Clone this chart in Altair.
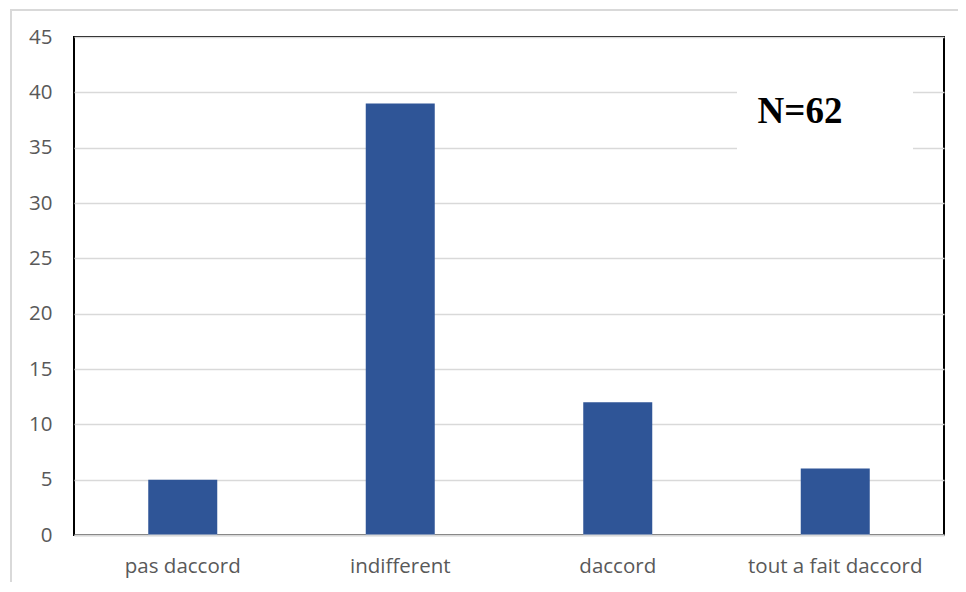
import altair as alt
import pandas as pd

categories = ["pas daccord", "indifferent", "daccord", "tout a fait daccord"]
values = [5, 39, 12, 6]
y_ticks = [0, 5, 10, 15, 20, 25, 30, 35, 40, 45]
annotation = "N=62"

df = pd.DataFrame({"cat": categories, "val": values})

W, H = 870, 498
GRAY_TXT = "#595959"
FONT = "Open Sans"

bars = alt.Chart(df).mark_bar(color="#2F5597", width=69).encode(
    x=alt.X("cat:N", sort=categories, title=None,
            scale=alt.Scale(paddingInner=0, paddingOuter=0),
            axis=alt.Axis(labelAngle=0, ticks=False, domainColor="#d9d9d9", domainWidth=2,
                          labelPadding=21, labelFontSize=20.5, labelColor=GRAY_TXT,
                          labelFont=FONT, zindex=1)),
    y=alt.Y("val:Q", title=None,
            scale=alt.Scale(domain=[0, 45], nice=False),
            axis=alt.Axis(values=y_ticks, ticks=False, domain=False, grid=True,
                          gridColor="#d9d9d9", gridWidth=1.5,
                          labelPadding=22, labelFontSize=20.5, labelColor=GRAY_TXT,
                          labelFont=FONT)),
)

box = alt.Chart(df).mark_rect(fill="white").encode(
    x=alt.value(663), x2=alt.value(839), y=alt.value(48), y2=alt.value(113)
).transform_filter(alt.datum.cat == categories[0])

label = alt.Chart(df).mark_text(
    text=annotation, font="Liberation Serif", fontWeight="bold", fontSize=37,
    color="black", align="center", baseline="alphabetic"
).encode(x=alt.value(726), y=alt.value(86)).transform_filter(alt.datum.cat == categories[0])

outer = alt.Chart(df).mark_rect(fill=None, stroke="#d9d9d9", strokeWidth=2).encode(
    x=alt.value(-63), x2=alt.value(W + 60), y=alt.value(-27), y2=alt.value(H + 80)
).transform_filter(alt.datum.cat == categories[0])

chart = alt.layer(outer, bars, box, label).properties(
    width=W, height=H,
    autosize=alt.AutoSizeParams(type="none"),
    padding={"left": 66, "top": 29, "right": 14, "bottom": 47},
    background="white",
).configure_view(stroke="black", strokeWidth=2)

chart.save("out.html", embed_options={"renderer": "svg", "actions": False})
